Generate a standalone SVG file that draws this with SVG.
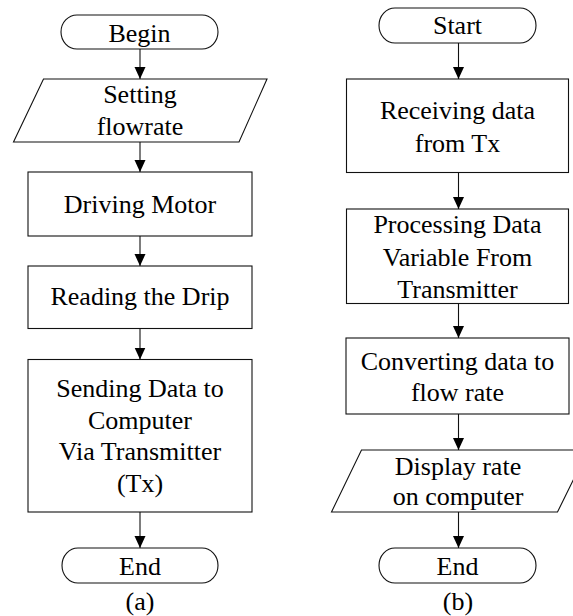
<svg xmlns="http://www.w3.org/2000/svg" width="573" height="616" viewBox="0 0 573 616">
<style>
.s{fill:#fff;stroke:#111;stroke-width:1.1}
.t{font-family:"Liberation Serif","Times New Roman",serif;font-size:26px;fill:#000;text-anchor:middle}
.c{stroke:#111;stroke-width:1.1;fill:none;marker-end:url(#ah)}
</style>
<defs>
<marker id="ah" markerUnits="userSpaceOnUse" viewBox="0 -6 12 12" refX="12" refY="0" markerWidth="12" markerHeight="12" orient="auto">
<path d="M0,-5.5 L12,0 L0,5.5 z" fill="#000"/>
</marker>
</defs>
<rect width="573" height="616" fill="#fff"/>
<g id="connectors">
<line class="c" x1="140" y1="49" x2="140" y2="79"/>
<line class="c" x1="140" y1="142" x2="140" y2="172"/>
<line class="c" x1="140" y1="236" x2="140" y2="266"/>
<line class="c" x1="140" y1="328.5" x2="140" y2="359.5"/>
<line class="c" x1="140" y1="512" x2="140" y2="548"/>
<line class="c" x1="458.5" y1="43" x2="458.5" y2="79"/>
<line class="c" x1="458.5" y1="172.5" x2="458.5" y2="209"/>
<line class="c" x1="458.5" y1="303.5" x2="458.5" y2="338"/>
<line class="c" x1="458.5" y1="414" x2="458.5" y2="450"/>
<line class="c" x1="458.5" y1="512" x2="458.5" y2="548"/>
</g>
<g id="begin">
<rect class="s" x="61" y="15" width="157" height="34" rx="16" ry="17"/>
<text class="t" x="139.5" y="41.5">Begin</text>
</g>
<g id="setting">
<polygon class="s" points="43.5,79 267,79 239,142 13.5,142"/>
<text class="t" x="140" y="103">Setting</text>
<text class="t" x="140" y="135">flowrate</text>
</g>
<g id="driving">
<rect class="s" x="28" y="172" width="224" height="64"/>
<text class="t" x="140" y="213">Driving Motor</text>
</g>
<g id="reading">
<rect class="s" x="28" y="266" width="224" height="62.5"/>
<text class="t" x="140" y="305">Reading the Drip</text>
</g>
<g id="sending">
<rect class="s" x="28" y="359.5" width="224" height="152.5"/>
<text class="t" x="140" y="396.5">Sending Data to</text>
<text class="t" x="140" y="428.5">Computer</text>
<text class="t" x="140" y="460">Via Transmitter</text>
<text class="t" x="140" y="491.5">(Tx)</text>
</g>
<g id="end-a">
<rect class="s" x="62" y="548" width="156" height="35" rx="16" ry="17.5"/>
<text class="t" x="140" y="574.5">End</text>
</g>
<text class="t" x="140" y="610">(a)</text>
<g id="start">
<rect class="s" x="379" y="8" width="157" height="35" rx="16" ry="17.5"/>
<text class="t" x="457.5" y="34">Start</text>
</g>
<g id="receiving">
<rect class="s" x="346.5" y="79" width="222" height="93.5"/>
<text class="t" x="457.5" y="119">Receiving data</text>
<text class="t" x="457.5" y="151.5">from Tx</text>
</g>
<g id="processing">
<rect class="s" x="346.5" y="209" width="222" height="94.5"/>
<text class="t" x="457.5" y="233">Processing Data</text>
<text class="t" x="457.5" y="265.5">Variable From</text>
<text class="t" x="457.5" y="297.5">Transmitter</text>
</g>
<g id="converting">
<rect class="s" x="346" y="338" width="223" height="76"/>
<text class="t" x="457.5" y="369.5">Converting data to</text>
<text class="t" x="457.5" y="400.5">flow rate</text>
</g>
<g id="display">
<polygon class="s" points="361.5,450 588,450 557.5,512 331.5,512"/>
<text class="t" x="458" y="475">Display rate</text>
<text class="t" x="458" y="505">on computer</text>
</g>
<g id="end-b">
<rect class="s" x="379" y="548" width="157" height="35" rx="16" ry="17.5"/>
<text class="t" x="457.5" y="574.5">End</text>
</g>
<text class="t" x="458" y="610">(b)</text>
</svg>
